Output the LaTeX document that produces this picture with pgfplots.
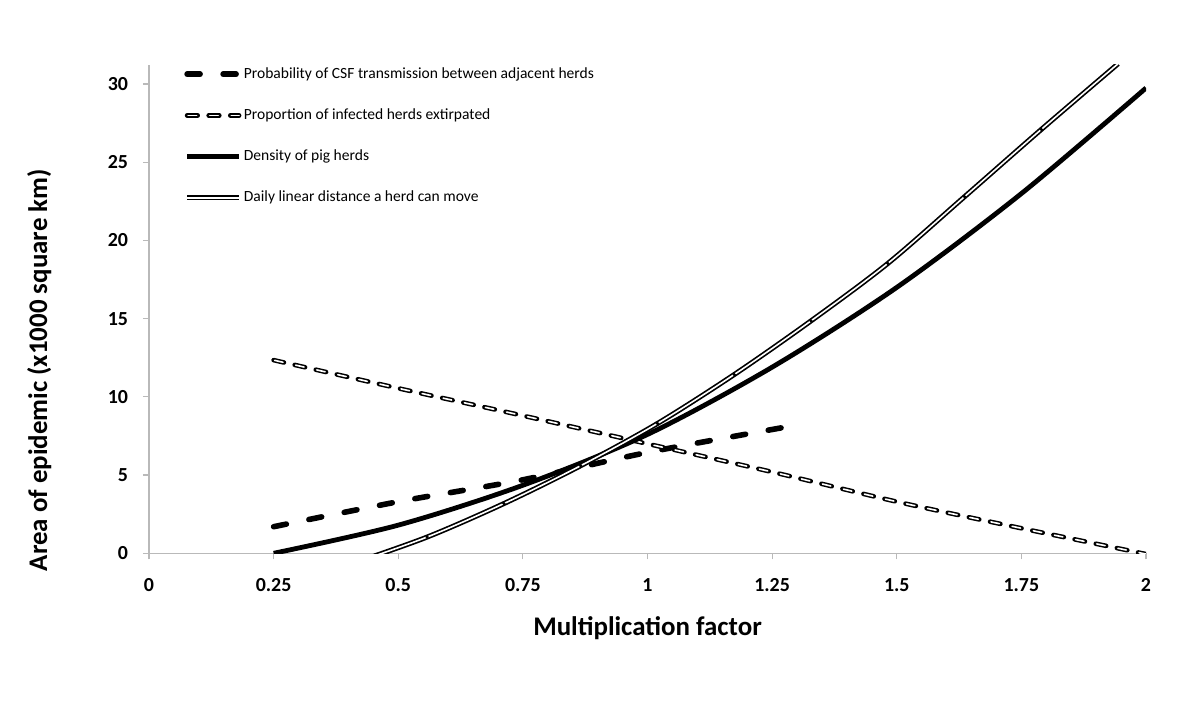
\documentclass[border=0pt]{standalone}
\usepackage{fontspec}
\setmainfont{Carlito}
\usepackage{pgfplots}
\pgfplotsset{compat=1.18}

\definecolor{axisgray}{RGB}{185,185,185}

\begin{document}
\begin{tikzpicture}
\path[use as bounding box] (0,0) rectangle (600bp,351bp);
\begin{axis}[
  at={(74.5bp,74.35bp)}, anchor=south west,
  width=498.5bp, height=244.15bp, scale only axis,
  xmin=0, xmax=2, ymin=0, ymax=31.22,
  axis lines=left,
  axis line style={axisgray, line width=0.6bp, -},
  tick style={axisgray, line width=0.6bp},
  tick align=outside,
  major tick length=3bp,
  xtick={0,0.25,0.5,0.75,1,1.25,1.5,1.75,2},
  xticklabels={0,0.25,0.5,0.75,1,1.25,1.5,1.75,2},
  ytick={0,5,10,15,20,25,30},
  /pgf/number format/assume math mode=true,
  ticklabel style={font=\bfseries\fontsize{10}{12}\selectfont, black},
  xticklabel style={yshift=-6bp},
  yticklabel style={xshift=-4bp},
  xlabel={Multiplication factor},
  ylabel={Area of epidemic (x1000 square km)},
  label style={font=\bfseries\fontsize{13.5}{16}\selectfont, black},
  xlabel style={at={(axis description cs:0.5,-0.154)}, anchor=center},
  ylabel style={at={(axis description cs:-0.11,0.375)}, anchor=center},
  legend style={at={(axis description cs:0.035,1.0)}, anchor=north west,
    draw=none, fill=none, inner sep=0pt, row sep=11.7bp,
    font=\fontsize{7.8}{9}\selectfont, nodes={inner sep=1bp}},
  legend cell align=left,
  legend image code/.code={\draw[#1] (0bp,0bp) -- (26bp,0bp);},
]
% transmission probability
\addplot[black, line width=2.8bp, line cap=round, dash pattern=on 6.5bp off 11.5bp, smooth] coordinates {
  (0.25,1.7) (0.5,3.3) (0.75,4.7) (1.0,6.45) (1.3,8.2)
};
\addlegendentry{Probability of CSF transmission between adjacent herds}
% extirpation
\addplot[black, line width=2.3bp, line cap=round, dash pattern=on 5.3bp off 5.5bp, smooth,
  postaction={draw=white, line width=0.8bp, dash pattern=on 4.3bp off 6.5bp, dash phase=10.3bp}] coordinates {
  (0.25,12.35) (0.5,10.55) (0.75,8.8) (1.0,7.0) (1.25,5.2) (1.5,3.3) (1.75,1.6) (2.0,-0.05)
};
\addlegendentry{Proportion of infected herds extirpated}
% herd density
\addplot[black, line width=2.4bp, smooth] coordinates {
  (0.25,0) (0.5,1.8) (0.75,4.35) (1.0,7.6) (1.25,11.9) (1.5,17.0) (1.75,23.0) (2.0,29.75)
};
\addlegendentry{Density of pig herds}
% daily distance
\addplot[black, line width=0.85bp, double=white, double distance=0.8bp, smooth] coordinates {
  (0.404,-0.7) (0.558,1.04) (0.712,3.18) (0.866,5.6) (1.02,8.3) (1.174,11.43)
  (1.328,14.86) (1.482,18.53) (1.636,22.8) (1.79,27.1) (1.944,31.3)
};
\addlegendentry{Daily linear distance a herd can move}
\addplot[only marks, mark=*, mark size=0.6bp, black, forget plot] coordinates {
  (0.558,1.04) (0.712,3.18) (0.866,5.6) (1.02,8.3) (1.174,11.43)
  (1.328,14.86) (1.482,18.53) (1.636,22.8) (1.79,27.1)
};
\end{axis}
\end{tikzpicture}
\end{document}
